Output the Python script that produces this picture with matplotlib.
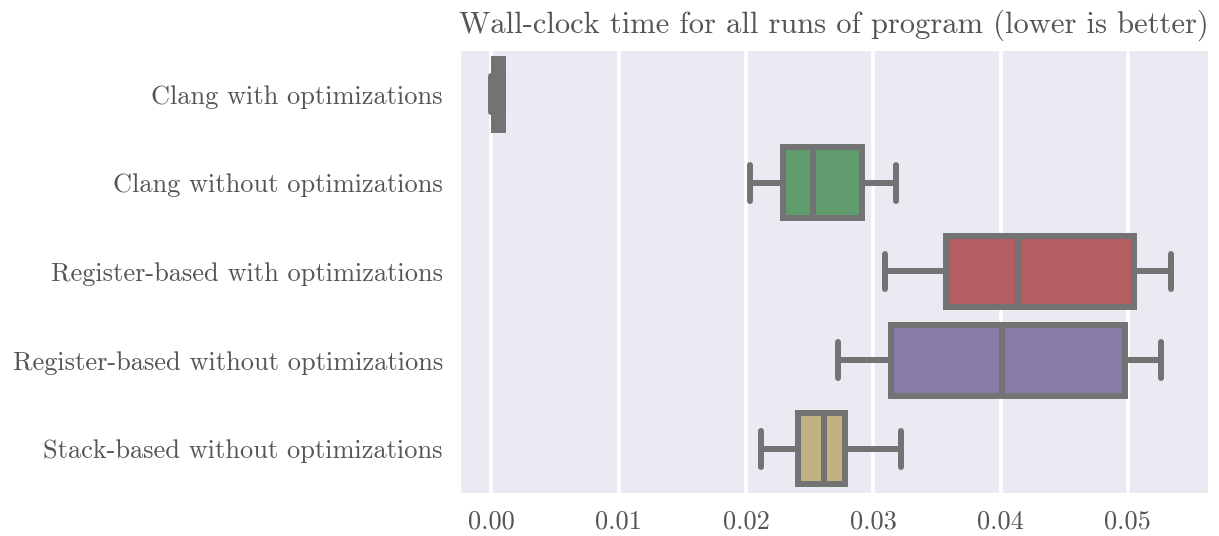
import numpy as np
import matplotlib
matplotlib.use("Agg")
import matplotlib.pyplot as plt
import seaborn as sns

# box statistics (seconds)
labels = ["Clang with optimizations",
          "Clang without optimizations",
          "Register-based with optimizations",
          "Register-based without optimizations",
          "Stack-based without optimizations"]
whislo = [0.0000, 0.0203, 0.0309, 0.0272, 0.0212]
q1 = [0.0002, 0.0229, 0.0357, 0.0314, 0.0241]
med = [0.0005, 0.0253, 0.0414, 0.0401, 0.0261]
q3 = [0.0009, 0.0291, 0.0505, 0.0498, 0.0278]
whishi = [0.0009, 0.0318, 0.0534, 0.0526, 0.0322]

# old seaborn "deep" palette
colors = ["#4C72B0", "#55A868", "#C44E52", "#8172B2", "#CCB974"]

sns.set_style("darkgrid")
plt.rcParams['font.family'] = 'serif'
plt.rcParams['font.serif'] = ['cmr10', 'DejaVu Serif']
plt.rcParams['axes.formatter.use_mathtext'] = True

fig = plt.figure(figsize=(12.19, 5.36), dpi=100)
ax = fig.add_axes([0.377, 0.080, 0.614, 0.827])

stats = []
for i in range(len(labels)):
    stats.append(dict(label=labels[i], whislo=whislo[i], q1=q1[i], med=med[i],
                      q3=q3[i], whishi=whishi[i], fliers=[]))

gray = "#737373"
lw = 4.3
pos = np.arange(len(labels))
bp = ax.bxp(stats, positions=pos, vert=False, widths=0.8, patch_artist=True,
            showfliers=False,
            boxprops=dict(linewidth=lw, edgecolor=gray),
            medianprops=dict(linewidth=lw, color=gray, solid_capstyle='butt'),
            whiskerprops=dict(linewidth=lw, color=gray, solid_capstyle='butt'),
            capprops=dict(linewidth=lw, color=gray, solid_capstyle='round'))
for patch, c in zip(bp['boxes'], colors):
    patch.set_facecolor(sns.desaturate(c, 0.72))

ax.set_ylim(len(labels) - 0.5, -0.5)
ax.set_xlim(-0.0025, 0.0563)
ax.set_yticks(pos)
ax.set_yticklabels(labels)
ax.set_xticks([0.0, 0.01, 0.02, 0.03, 0.04, 0.05])
ax.set_xticklabels(["0.00", "0.01", "0.02", "0.03", "0.04", "0.05"])
ax.grid(axis='y', visible=False)
ax.grid(axis='x', linewidth=2.6, color='white')
ax.tick_params(labelsize=19, colors='#555555', length=0, pad=12)
ax.set_title("Wall-clock time for all runs of program (lower is better)",
             fontsize=22, color='#555555', pad=12)

fig.savefig("out.png", dpi=100)
